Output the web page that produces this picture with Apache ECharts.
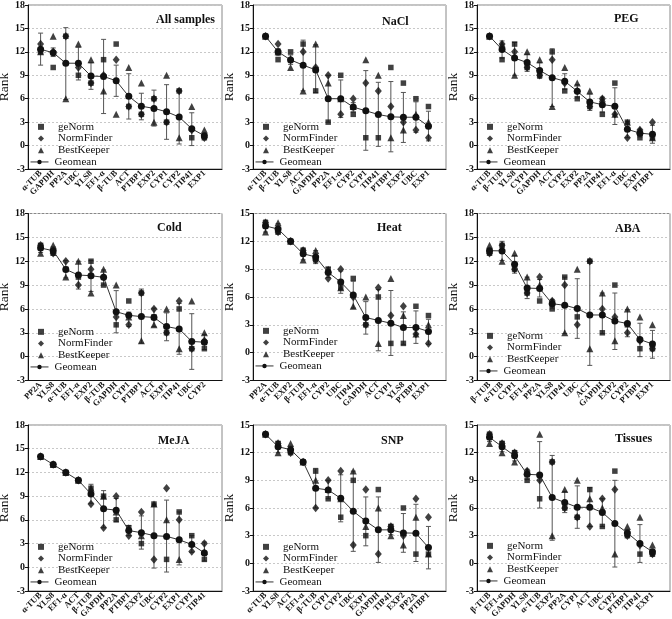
<!DOCTYPE html>
<html><head><meta charset="utf-8">
<script src="https://cdn.jsdelivr.net/npm/echarts/dist/echarts.min.js"></script>
<style>html,body{margin:0;padding:0;background:#fff}#c{width:672px;height:619px}</style>
</head><body><div id="c"></div>
<script>
// ---- Panel 1: All samples
const cats1 = ['α-TUB','GAPDH','PP2A','UBC','YLS8','EF1-α','β-TUB','ACT','PTBP1','EXP2','CYP1','CYP2','TIP41','EXP1'];
const gen1 = [12,10,14,9,8,11,13,5,4,6,3,7,1,1];
const nf1 = [13,12,14,10,8,9,11,5,4,6,3,7,2,1];
const bk1 = [12,14,6,13,11,7,4,10,8,3,9,1,5,2];
const geo1 = [12.32,11.89,10.55,10.54,8.9,8.85,8.3,6.3,5.04,4.76,4.33,3.66,2.15,1.26];
const lo1 = [10.3,11.4,5.9,8.4,7.2,4.1,6.3,3.4,3.3,2.5,0.8,0.2,0.0,1.1];
const hi1 = [14.4,12.5,15.1,12.6,10.6,13.6,10.3,9.2,6.7,7.1,7.8,7.1,4.2,1.4];
// ---- Panel 2: NaCl
const cats2 = ['α-TUB','β-TUB','YLS8','ACT','GAPDH','PP2A','EF1-α','CYP2','CYP1','TIP41','PTBP1','EXP2','UBC','EXP1'];
const gen2 = [14,11,12,13,7,3,9,4,1,1,10,8,6,5];
const nf2 = [14,13,11,12,10,9,4,6,8,7,5,3,2,1];
const bk2 = [14,12,10,7,13,8,6,5,11,9,1,2,4,3];
const geo2 = [14,12,10.97,10.3,9.69,6,6,4.93,4.45,3.98,3.68,3.63,3.63,2.47];
const lo2 = [null,11.5,10.4,7.0,6.8,3.0,3.6,4.3,-0.6,-0.1,-0.8,0.4,1.7,0.6];
const hi2 = [null,12.4,11.6,13.5,12.9,9.0,8.4,5.5,9.6,8.1,8.2,6.8,5.6,4.4];
// ---- Panel 3: PEG
const cats3 = ['α-TUB','β-TUB','YLS8','CYP1','GAPDH','ACT','CYP2','EXP2','PP2A','TIP41','EF1-α','UBC','EXP1','PTBP1'];
const gen3 = [14,11,13,10,9,12,7,6,5,4,8,3,1,1];
const nf3 = [14,13,12,10,9,11,8,7,5,6,4,1,2,3];
const bk3 = [14,13,9,12,11,5,10,8,7,6,4,3,2,1];
const geo3 = [14,12.3,11.2,10.63,9.62,8.7,8.24,6.95,5.59,5.24,5.04,2.08,1.59,1.44];
const lo3 = [null,11.2,9.0,9.5,8.6,5.0,7.2,6.1,4.5,4.3,2.7,1.0,1.1,0.3];
const hi3 = [null,13.4,13.2,11.7,10.6,12.4,9.2,7.8,6.6,6.2,7.4,3.1,2.1,2.6];
// ---- Panel 4: Cold
const cats4 = ['PP2A','YLS8','α-TUB','EF1-α','EXP2','β-TUB','GAPDH','CYP1','PTBP1','ACT','EXP1','TIP41','UBC','CYP2'];
const gen4 = [14,13,11,10,12,9,4,7,8,5,3,6,1,1];
const nf4 = [14,13,12,9,11,10,5,4,8,6,3,7,1,2];
const bk4 = [13,14,10,12,8,11,9,5,2,4,6,1,7,3];
const geo4 = [13.66,13.32,10.97,10.26,10.18,9.97,5.65,5.19,5.04,4.93,3.78,3.48,1.91,1.82];
const lo4 = [13.1,12.8,9.9,8.5,8.2,9.0,3.0,3.8,1.7,3.8,2.0,0.3,-1.6,0.9];
const hi4 = [14.2,13.8,12.1,12.0,12.1,10.9,8.3,5.6,8.5,6.1,5.5,6.7,5.4,2.8];
// ---- Panel 5: Heat
const cats5 = ['PP2A','α-TUB','EXP2','β-TUB','EF1-α','CYP2','UBC','TIP41','GAPDH','ACT','CYP1','YLS8','PTBP1','EXP1'];
const gen5 = [14,13,12,11,10,9,7,8,3,6,1,1,5,4];
const nf5 = [14,13,12,11,10,8,9,6,3,7,4,5,2,1];
const bk5 = [13,14,12,10,11,9,7,5,6,1,8,4,2,3];
const geo5 = [13.66,13.32,12,10.66,10.32,8.65,7.61,6.21,3.78,3.48,3.17,2.71,2.71,2.29];
const lo5 = [13.0,12.8,null,10.0,9.6,8.1,6.4,4.8,2.0,0.2,-0.3,0.9,1.0,0.9];
const hi5 = [14.3,13.9,null,11.3,11.0,9.2,8.8,7.7,5.5,6.8,6.7,4.4,4.5,3.6];
// ---- Panel 6: ABA
const cats6 = ['β-TUB','α-TUB','CYP1','EF1-α','PP2A','YLS8','TIP41','UBC','ACT','GAPDH','EXP2','CYP2','PTBP1','EXP1'];
const gen6 = [13,14,11,8,7,6,10,5,12,3,9,4,1,1];
const nf6 = [13,14,11,8,10,7,9,4,12,6,5,3,2,1];
const bk6 = [14,12,13,10,9,7,3,11,1,8,2,6,5,4];
const geo6 = [13.32,13.3,11.63,8.62,8.57,6.65,6.46,6.04,5.24,5.24,4.48,4.16,2.15,1.59];
const lo6 = [12.9,12.1,10.5,7.3,7.5,6.1,2.9,2.3,-1.1,2.9,0.9,2.5,0.0,-0.2];
const hi6 = [13.6,14.5,12.7,10.0,9.7,7.2,10.0,9.8,12.0,8.0,8.0,5.9,4.2,3.3];
// ---- Panel 7: MeJA
const cats7 = ['α-TUB','YLS8','EF1-α','ACT','β-TUB','GAPDH','PP2A','PTBP1','EXP2','UBC','CYP2','EXP1','CYP1','TIP41'];
const gen7 = [14,13,12,11,10,9,6,5,3,8,1,7,4,1];
const nf7 = [14,13,12,11,8,5,9,4,7,1,10,6,2,3];
const bk7 = [14,13,12,11,10,9,7,5,4,8,6,1,3,2];
const geo7 = [14,13,12,11,9.28,7.4,7.23,4.64,4.38,4.0,3.91,3.48,2.88,1.82];
const lo7 = [null,null,null,null,8.1,5.0,5.8,4.0,2.3,-0.1,-0.6,0.3,1.9,0.8];
const hi7 = [null,null,null,null,10.5,9.7,8.7,5.3,6.5,8.0,8.5,7.0,4.0,3.2];
// ---- Panel 8: SNP
const cats8 = ['α-TUB','YLS8','ACT','EF1-α','β-TUB','CYP1','CYP2','UBC','EXP1','GAPDH','TIP41','EXP2','PP2A','PTBP1'];
const gen8 = [14,13,12,11,10,7,5,9,3,8,4,6,1,1];
const nf8 = [14,13,12,11,6,9,10,2,8,1,4,3,7,5];
const bk8 = [14,12,13,11,9,8,7,10,4,6,3,2,5,1];
const geo8 = [14,12.65,12.32,11,8.14,7.96,7.05,5.65,4.58,3.63,3.63,3.3,3.27,1.71];
const lo8 = [null,12.0,11.9,null,6.0,7.0,4.5,1.3,1.9,0.1,3.1,1.2,0.2,-0.6];
const hi8 = [null,13.2,12.7,null,10.3,9.0,9.6,10.0,7.2,7.2,4.2,5.4,6.4,4.0];
// ---- Panel 9: Tissues
const cats9 = ['β-TUB','EF1-α','GAPDH','YLS8','α-TUB','EXP2','PP2A','CYP1','ACT','UBC','CYP2','PTBP1','TIP41','EXP1'];
const gen9 = [14,13,12,9,7,11,6,5,8,4,10,3,1,1];
const nf9 = [14,13,12,10,9,11,6,5,4,7,8,3,2,1];
const bk9 = [13,12,11,10,14,3,8,9,7,6,1,4,5,2];
const geo9 = [13.66,12.65,11.66,9.65,9.59,7.13,6.6,6.08,6.07,5.52,4.31,3.3,2.15,1.26];
const lo9 = [13.2,12.1,11.1,9.1,6.0,2.5,5.5,3.8,4.0,4.0,-0.4,2.9,0.1,0.8];
const hi9 = [14.1,13.2,12.2,10.2,13.2,11.7,7.8,8.4,8.2,7.0,9.0,3.6,4.2,1.5];

const titles = ['All samples','NaCl','PEG','Cold','Heat','ABA','MeJA','SNP','Tissues'];
const yMaxes = [18,18,18,18,15,18,18,15,15];
const markerNames = ['geNorm','NormFinder','BestKeeper'];
const lineNames = ['Geomean'];

const panels = [
  [cats1,gen1,nf1,bk1,geo1,lo1,hi1],[cats2,gen2,nf2,bk2,geo2,lo2,hi2],[cats3,gen3,nf3,bk3,geo3,lo3,hi3],
  [cats4,gen4,nf4,bk4,geo4,lo4,hi4],[cats5,gen5,nf5,bk5,geo5,lo5,hi5],[cats6,gen6,nf6,bk6,geo6,lo6,hi6],
  [cats7,gen7,nf7,bk7,geo7,lo7,hi7],[cats8,gen8,nf8,bk8,geo8,lo8,hi8],[cats9,gen9,nf9,bk9,geo9,lo9,hi9]
];

// layout (pixels)
const FONT = "'Liberation Serif','Times New Roman',serif";
const INK = '#111';
const lefts = [28,253,477], widths = [194,193,193];
const tops = [5,213.5,425], heights = [164,167,166];
const titleLeft = [156,382,614,157,377,615,158,381,615];
const titleTop = [14,16,13,222,222,223,435,435,433];
const legendTop = [121,121,121,326,325,330,541,541,540];
const LH = 11.7;

const chart = echarts.init(document.getElementById('c'), null, {renderer:'canvas'});
const option = {animation:false, backgroundColor:'#fff', grid:[], xAxis:[], yAxis:[], series:[], title:[], legend:[]};

panels.forEach((p, i) => {
  const [cats, gen, nf, bk, geo, lo, hi] = p;
  const r = Math.floor(i/3), c = i%3;
  option.grid.push({left:lefts[c], top:tops[r], width:widths[c], height:heights[r], show:true,
    borderColor:'#888', borderWidth:1, containLabel:false, outerBoundsMode:'none'});
  option.xAxis.push({gridIndex:i, type:'value', min:0, max:15.4, interval:1,
    axisLine:{onZero:false, lineStyle:{color:INK, width:1}}, axisTick:{show:false}, splitLine:{show:false},
    axisLabel:{rotate:45, fontSize:8.5, fontWeight:'bold', fontFamily:FONT, color:INK, margin:3,
      showMinLabel:true, showMaxLabel:true, hideOverlap:false,
      formatter: v => cats[Math.round(v)-1] || ''}});
  option.yAxis.push({gridIndex:i, type:'value', min:-3, max:yMaxes[i], interval:3,
    name:'Rank', nameLocation:'middle', nameGap:14,
    nameTextStyle:{fontFamily:FONT, fontSize:13.5, color:INK},
    axisLine:{show:true, onZero:false, lineStyle:{color:INK, width:1}},
    axisTick:{show:true, length:3, lineStyle:{color:INK}},
    axisLabel:{fontSize:10, fontWeight:'bold', fontFamily:FONT, color:INK, margin:3},
    splitLine:{show:true, lineStyle:{color:'#c8c8c8', type:[2,2], width:1}}});
  option.title.push({text:titles[i], left:titleLeft[i], top:titleTop[i], padding:0,
    textStyle:{fontFamily:FONT, fontWeight:'bold', fontSize:12, color:INK}});
  option.legend.push({data:markerNames, orient:'vertical', left:lefts[c]+10, top:legendTop[i], padding:0,
    itemWidth:6, itemHeight:6, itemGap:0, selectedMode:false,
    textStyle:{fontFamily:FONT, fontSize:11, color:INK, lineHeight:LH, padding:[0,0,0,9]}});
  option.legend.push({data:lineNames, orient:'vertical', left:lefts[c]+2, top:legendTop[i]+3*LH, padding:0,
    itemWidth:18, itemHeight:5.5, itemGap:0, selectedMode:false,
    lineStyle:{width:1, color:'#333'},
    textStyle:{fontFamily:FONT, fontSize:11, color:INK, lineHeight:LH, padding:[0,0,0,1]}});

  const errData = [];
  lo.forEach((l, k) => { if (l !== null) errData.push([k+1, l, hi[k]]); });
  option.series.push({type:'custom', name:'err'+i, xAxisIndex:i, yAxisIndex:i, silent:true, z:1,
    encode:{x:0, y:[1,2]}, data:errData,
    renderItem:(params, api) => {
      const x = api.value(0);
      const a = api.coord([x, api.value(1)]), b = api.coord([x, api.value(2)]);
      const w = 2.5, st = {stroke:'#555', lineWidth:1};
      return {type:'group', children:[
        {type:'line', shape:{x1:a[0], y1:a[1], x2:b[0], y2:b[1]}, style:st},
        {type:'line', shape:{x1:a[0]-w, y1:a[1], x2:a[0]+w, y2:a[1]}, style:st},
        {type:'line', shape:{x1:b[0]-w, y1:b[1], x2:b[0]+w, y2:b[1]}, style:st}
      ]};
    }});
  const pts = arr => arr.map((v, k) => [k+1, v]);
  option.series.push({type:'scatter', name:'geNorm', xAxisIndex:i, yAxisIndex:i, z:3, symbol:'rect', symbolSize:5.5,
    itemStyle:{color:INK}, data:pts(gen)});
  option.series.push({type:'scatter', name:'NormFinder', xAxisIndex:i, yAxisIndex:i, z:3, symbol:'diamond', symbolSize:[7,8.5],
    itemStyle:{color:INK}, data:pts(nf)});
  option.series.push({type:'scatter', name:'BestKeeper', xAxisIndex:i, yAxisIndex:i, z:3, symbol:'triangle', symbolSize:7,
    itemStyle:{color:INK}, data:pts(bk)});
  option.series.push({type:'line', name:'Geomean', xAxisIndex:i, yAxisIndex:i, z:4, symbol:'circle', symbolSize:7, showAllSymbol:true,
    itemStyle:{color:INK}, lineStyle:{color:'#333', width:1}, data:pts(geo)});
});

chart.setOption(option);
</script></body></html>
